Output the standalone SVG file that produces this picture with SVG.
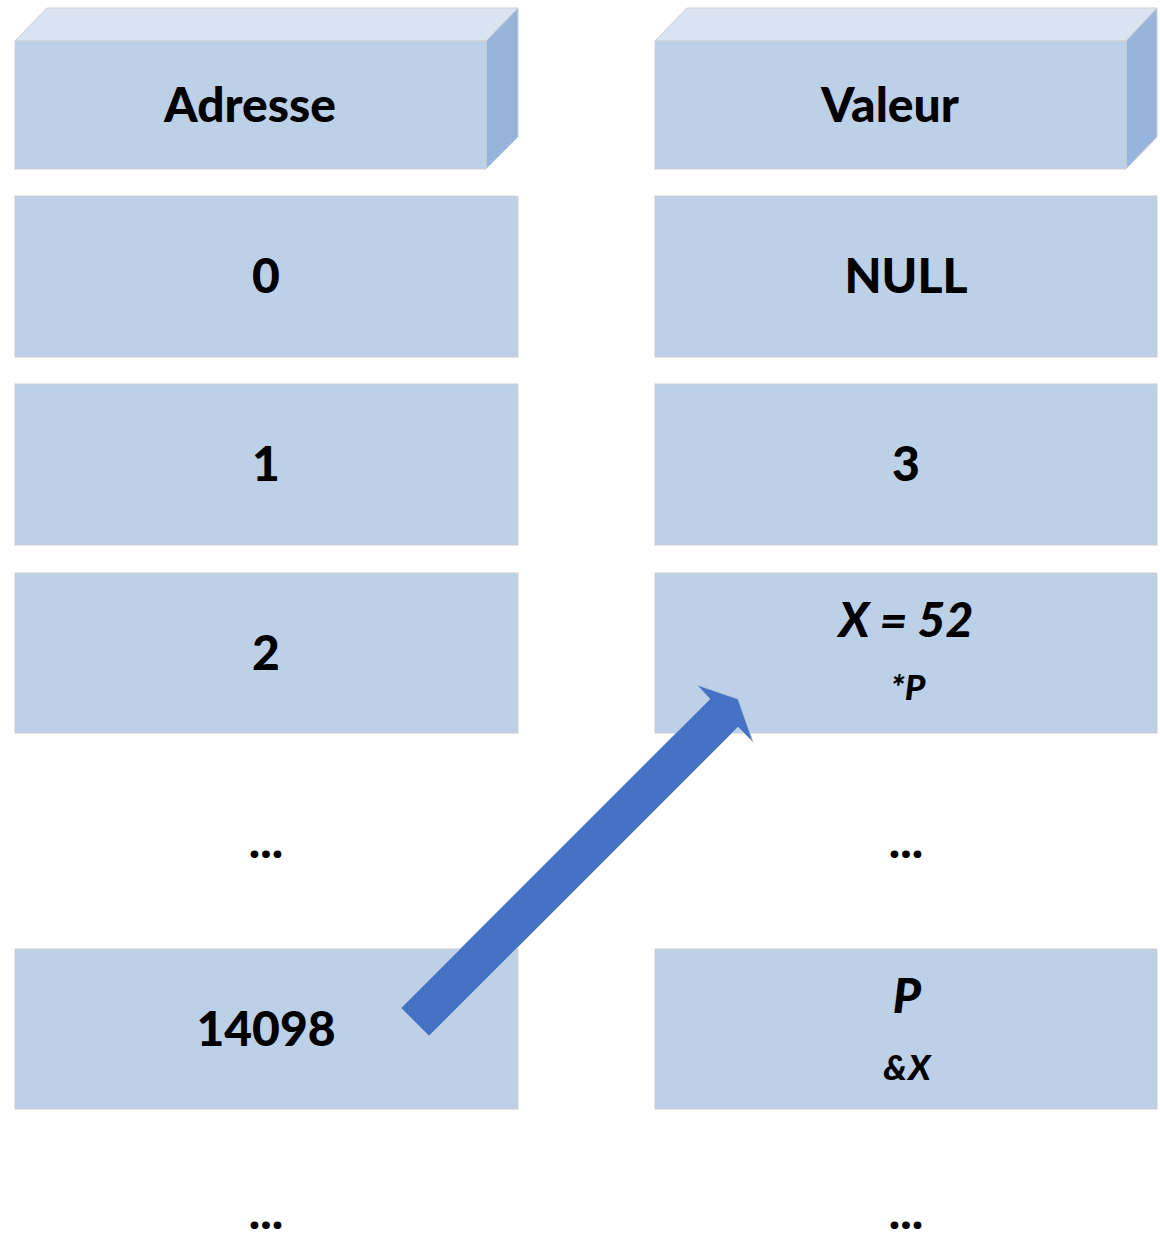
<svg xmlns="http://www.w3.org/2000/svg" width="1160" height="1238" viewBox="0 0 1160 1238">
<style>
.box{fill:#BCD0E8;stroke:#D0D0D0;stroke-width:1}
.top{fill:#DAE3F2;stroke:#D0D0D0;stroke-width:1}
.side{fill:#97B4DC;stroke:#D0D0D0;stroke-width:1}
.t{font-family:Lato,"Open Sans",sans-serif;font-weight:900;font-size:48px;fill:#000;text-anchor:middle}
.i{font-style:italic}
.s{font-size:35px}
</style>
<rect width="1160" height="1238" fill="#fff"/>
<g id="header-adresse">
<polygon class="top" points="15,41 47,8 518,8 486,41"/>
<polygon class="side" points="486,41 518,8 518,137 486,169"/>
<rect class="box" x="15" y="41" width="471" height="128"/>
<text class="t" x="250" y="122">Adresse</text>
</g>
<g id="header-valeur">
<polygon class="top" points="655,41 687,8 1157,8 1126,41"/>
<polygon class="side" points="1126,41 1157,8 1157,137 1126,169"/>
<rect class="box" x="655" y="41" width="471" height="128"/>
<text class="t" x="890" y="122">Valeur</text>
</g>
<g id="addr-0"><rect class="box" x="15" y="196" width="503" height="161"/><text class="t" x="266" y="293">0</text></g>
<g id="val-0"><rect class="box" x="655" y="196" width="502" height="161"/><text class="t" x="906" y="293">NULL</text></g>
<g id="addr-1"><rect class="box" x="15" y="384" width="503" height="161"/><text class="t" x="266" y="481">1</text></g>
<g id="val-1"><rect class="box" x="655" y="384" width="502" height="161"/><text class="t" x="906" y="481">3</text></g>
<g id="addr-2"><rect class="box" x="15" y="573" width="503" height="160"/><text class="t" x="266" y="670">2</text></g>
<g id="val-2"><rect class="box" x="655" y="573" width="502" height="160"/><text class="t i" x="906" y="637">X = 52</text><text class="t i s" x="908" y="700">*P</text></g>
<g id="addr-dots1"><text class="t" x="266" y="858">...</text></g>
<g id="val-dots1"><text class="t" x="906" y="858">...</text></g>
<g id="addr-14098"><rect class="box" x="15" y="949" width="503" height="160"/><text class="t" x="266" y="1046">14098</text></g>
<g id="val-p"><rect class="box" x="655" y="949" width="502" height="160"/><text class="t i" x="907" y="1013">P</text><text class="t i s" x="907" y="1080">&amp;X</text></g>
<g id="addr-dots2"><text class="t" x="266" y="1229">...</text></g>
<g id="val-dots2"><text class="t" x="906" y="1229">...</text></g>
<g id="connectors">
<polygon points="401,1008 710,699 697,685 738,699 753,742 738,727 429,1036" fill="#4472C4" stroke="#B8C4D8" stroke-width="0.8"/>
</g>
</svg>
